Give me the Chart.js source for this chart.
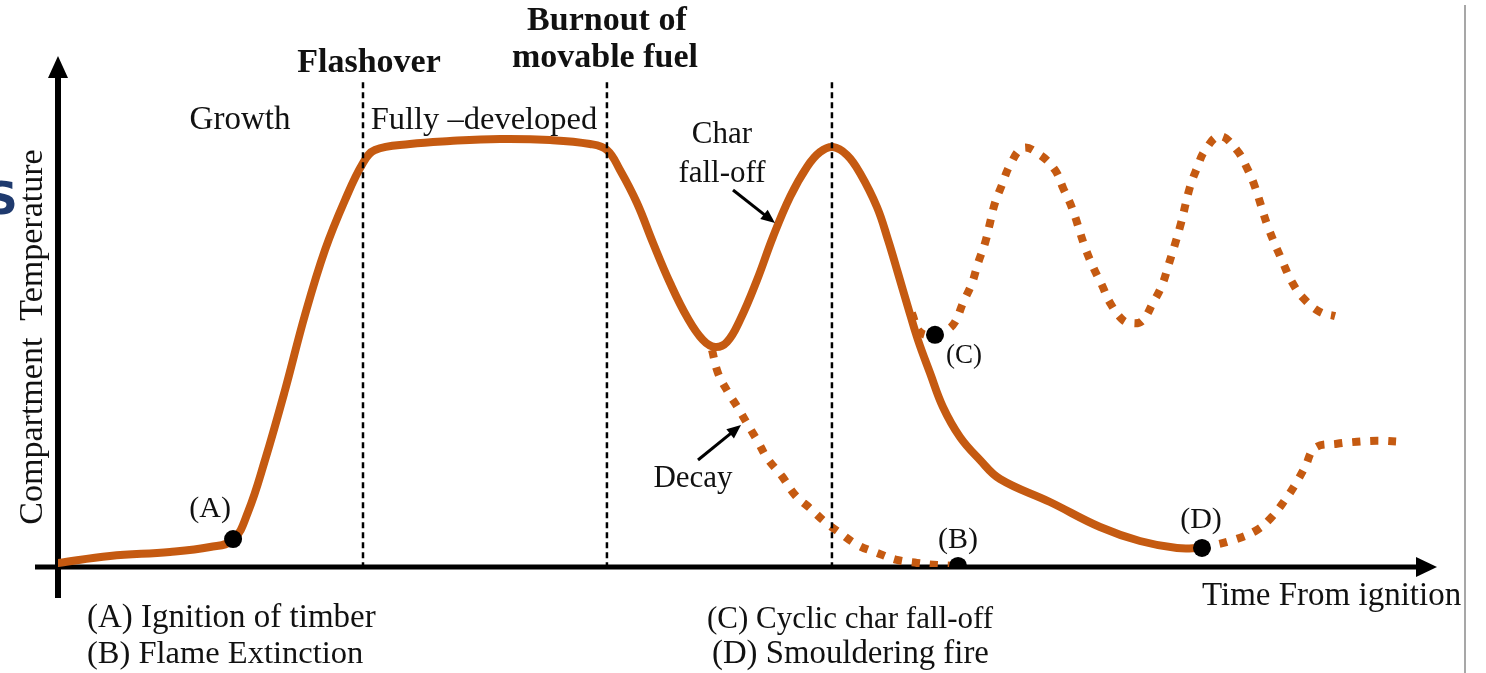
<!DOCTYPE html>
<html>
<head>
<meta charset="utf-8">
<title>Compartment fire temperature stages</title>
<script src="https://cdn.jsdelivr.net/npm/chart.js@4.4.1/dist/chart.umd.min.js"></script>
<style>
  html, body { margin: 0; padding: 0; background: #fff; }
  #wrap { position: relative; width: 1486px; height: 673px; }
</style>
</head>
<body>
<div id="wrap"><canvas id="fireChart"></canvas></div>
<script>
// time from ignition (0-100) and compartment temperature (0-100)
const mainTime = [0, 3.79, 8.16, 11.08, 12.76, 13.85, 15.09, 16.55, 18.0, 19.46, 20.92, 22.23, 23.1, 25.66, 28.57, 32.22, 35.86, 38.78, 40.01, 40.96, 42.2, 43.37, 44.61, 45.85, 47.01, 47.89, 48.76, 49.71, 50.95, 52.11, 53.35, 54.59, 55.54, 56.49, 57.51, 58.45, 59.69, 60.5, 61.22, 61.95, 62.68, 63.56, 64.5, 65.74, 67.2, 68.66, 72.3, 75.95, 78.86, 81.56, 83.38];
const mainTemp = [0.79, 2.17, 2.96, 3.94, 5.33, 10.85, 21.1, 34.91, 49.7, 62.52, 72.39, 79.68, 82.25, 83.43, 84.02, 84.42, 84.22, 83.43, 82.25, 78.3, 71.79, 63.91, 56.02, 49.31, 44.77, 43.39, 44.38, 48.72, 56.61, 65.09, 72.98, 78.9, 81.85, 82.84, 81.26, 77.71, 71.01, 64.5, 57.99, 51.28, 44.77, 38.26, 31.56, 25.64, 21.1, 17.36, 12.82, 7.89, 5.13, 3.75, 3.75];

const decayTime = [47.67, 48.1, 48.83, 49.56, 50.29, 51.02, 51.68, 52.77, 53.72, 54.81, 55.9, 57.0, 58.31, 59.69, 61.15, 62.61, 64.07, 65.6];
const decayTemp = [42.8, 38.3, 34.5, 31.4, 28.0, 24.7, 21.5, 17.9, 14.2, 11.6, 8.9, 6.7, 4.3, 2.8, 1.4, 0.8, 0.4, 0.2];

const cyclicTime = [62.24, 62.83, 63.92, 64.8, 65.38, 65.96, 66.62, 67.06, 67.57, 67.93, 68.29, 68.8, 69.39, 70.34, 71.57, 72.67, 73.25, 73.91, 74.85, 75.44, 76.09, 76.68, 77.62, 78.28, 79.01, 79.81, 80.47, 80.9, 81.78, 82.51, 83.02, 83.6, 84.69, 85.93, 86.66, 87.24, 88.19, 89.29, 89.94, 90.74, 91.98, 93.08];
const cyclicTemp = [50.1, 46.35, 45.76, 46.75, 48.32, 52.07, 56.02, 59.96, 63.91, 67.85, 71.79, 75.35, 79.29, 82.64, 81.3, 78.3, 74.8, 70.8, 63.1, 59.2, 55.6, 52.1, 48.7, 48.1, 48.5, 52.1, 55.6, 59.2, 67.1, 75.0, 78.7, 82.2, 85.0, 82.2, 78.7, 75.0, 67.1, 60.0, 56.2, 53.1, 50.3, 49.5];

const smoulderTime = [83.38, 85.64, 87.39, 88.48, 89.43, 90.16, 90.89, 91.62, 93.22, 94.68, 96.14, 97.81];
const smoulderTemp = [3.75, 5.3, 7.3, 9.9, 13.2, 16.2, 19.7, 23.5, 24.3, 24.7, 24.9, 24.7];

// stage boundaries: flashover, burnout of movable fuel, char fall-off peak
const stageTimes = [22.23, 40.01, 56.41];
const stageSpan = [-2.2, 95.7];

// events (A) ignition, (B) extinction, (C) cyclic fall-off, (D) smouldering
const eventNames = ["(A)", "(B)", "(C)", "(D)"];
const eventTime = [12.76, 65.6, 63.92, 83.38];
const eventTemp = [5.52, 0.2, 45.8, 3.75];

const ORANGE = "#C55A11";
const SERIF = "'Liberation Serif', 'Times New Roman', serif";

function pts(xs, ys) {
  return xs.map((x, i) => ({ x: x, y: ys[i] }));
}

const datasets = [];
datasets.push({
  label: "events",
  data: pts(eventTime, eventTemp),
  showLine: false,
  pointRadius: 9,
  pointBackgroundColor: "#000",
  pointBorderWidth: 0,
  order: 0
});
stageTimes.forEach(function (t) {
  datasets.push({
    label: "stage",
    data: [{ x: t, y: stageSpan[0] }, { x: t, y: stageSpan[1] }],
    showLine: true,
    borderColor: "#000",
    borderWidth: 2.5,
    borderDash: [6, 4],
    pointRadius: 0,
    order: 1
  });
});
datasets.push({
  label: "main",
  data: pts(mainTime, mainTemp),
  showLine: true,
  borderColor: ORANGE,
  borderWidth: 8,
  pointRadius: 0,
  tension: 0.4,
  borderCapStyle: "round",
  borderJoinStyle: "round",
  order: 2
});
[[decayTime, decayTemp], [cyclicTime, cyclicTemp], [smoulderTime, smoulderTemp]].forEach(function (s) {
  datasets.push({
    label: "dotted",
    data: pts(s[0], s[1]),
    showLine: true,
    borderColor: ORANGE,
    borderWidth: 8,
    borderDash: [8, 10],
    pointRadius: 0,
    tension: 0.4,
    order: 3
  });
});

const axesPlugin = {
  id: "axesPlugin",
  beforeDatasetsDraw(chart) {
    const ctx = chart.ctx;
    const a = chart.chartArea;
    ctx.save();
    ctx.fillStyle = "#000";
    ctx.strokeStyle = "#000";
    // y axis with arrow
    ctx.lineWidth = 6;
    ctx.beginPath();
    ctx.moveTo(a.left, 598);
    ctx.lineTo(a.left, a.top + 16);
    ctx.stroke();
    ctx.beginPath();
    ctx.moveTo(a.left, a.top - 4);
    ctx.lineTo(a.left - 10, a.top + 18);
    ctx.lineTo(a.left + 10, a.top + 18);
    ctx.closePath();
    ctx.fill();
    // x axis with arrow
    ctx.lineWidth = 5;
    ctx.beginPath();
    ctx.moveTo(35, a.bottom);
    ctx.lineTo(a.right - 12, a.bottom);
    ctx.stroke();
    ctx.beginPath();
    ctx.moveTo(a.right + 7, a.bottom);
    ctx.lineTo(a.right - 14, a.bottom - 10);
    ctx.lineTo(a.right - 14, a.bottom + 10);
    ctx.closePath();
    ctx.fill();
    ctx.restore();
  },
  afterDatasetsDraw(chart) {
    const ctx = chart.ctx;
    const x = chart.scales.x, y = chart.scales.y;
    ctx.save();
    ctx.fillStyle = "#111";
    ctx.textBaseline = "alphabetic";

    function txt(s, px, py, size, align, bold) {
      ctx.font = (bold ? "bold " : "") + size + "px " + SERIF;
      ctx.textAlign = align || "left";
      ctx.fillText(s, px, py);
    }
    function arrow(x1, y1, x2, y2) {
      const ang = Math.atan2(y2 - y1, x2 - x1);
      ctx.strokeStyle = "#000";
      ctx.lineWidth = 3;
      ctx.beginPath();
      ctx.moveTo(x1, y1);
      ctx.lineTo(x2 - 8 * Math.cos(ang), y2 - 8 * Math.sin(ang));
      ctx.stroke();
      ctx.beginPath();
      ctx.moveTo(x2, y2);
      ctx.lineTo(x2 - 14 * Math.cos(ang) + 6 * Math.sin(ang), y2 - 14 * Math.sin(ang) - 6 * Math.cos(ang));
      ctx.lineTo(x2 - 14 * Math.cos(ang) - 6 * Math.sin(ang), y2 - 14 * Math.sin(ang) + 6 * Math.cos(ang));
      ctx.closePath();
      ctx.fillStyle = "#000";
      ctx.fill();
      ctx.fillStyle = "#111";
    }

    // stage headings
    txt("Flashover", x.getPixelForValue(stageTimes[0]) + 6, 72, 34, "center", true);
    txt("Burnout of", x.getPixelForValue(stageTimes[1]), 30, 34, "center", true);
    txt("movable fuel", x.getPixelForValue(stageTimes[1]) - 2, 67, 34, "center", true);
    txt("Growth", 240, 129, 33, "center");
    txt("Fully \u2013developed", 484, 129, 32.5, "center");
    txt("Char", 722, 143, 31, "center");
    txt("fall-off", 722, 182, 31, "center");
    arrow(733, 190, 775, 223);
    txt("Decay", 693, 487, 31, "center");
    arrow(698, 460, 741, 425);

    // event labels
    const offs = [[-23, -22], [0, -18], [29, 28], [-1, -20]];
    eventNames.forEach(function (n, i) {
      const size = i === 2 ? 27 : 30;
      txt(n, x.getPixelForValue(eventTime[i]) + offs[i][0], y.getPixelForValue(eventTemp[i]) + offs[i][1], size, "center");
    });

    // axis titles
    txt("Time From ignition", 1202, 605, 33, "left");
    ctx.save();
    ctx.translate(42, 337);
    ctx.rotate(-Math.PI / 2);
    txt("Compartment  Temperature", 0, 0, 34, "center");
    ctx.restore();

    // key
    txt("(A) Ignition of timber", 87, 627, 33, "left");
    txt("(B) Flame Extinction", 87, 663, 32.5, "left");
    txt("(C) Cyclic char fall-off", 707, 628, 31, "left");
    txt("(D) Smouldering fire", 712, 663, 32.8, "left");

    // right frame edge and clipped glyph at the left border
    ctx.strokeStyle = "#8a8a8a";
    ctx.lineWidth = 1.5;
    ctx.beginPath();
    ctx.moveTo(1465, 5);
    ctx.lineTo(1465, 673);
    ctx.stroke();
    ctx.fillStyle = "#1F3A6E";
    ctx.font = "bold 44px 'DejaVu Sans', sans-serif";
    ctx.textAlign = "left";
    ctx.fillText("S", -14, 214);
    ctx.restore();
  }
};

new Chart(document.getElementById("fireChart").getContext("2d"), {
  type: "scatter",
  data: { datasets: datasets },
  options: {
    responsive: true,
    maintainAspectRatio: false,
    animation: false,
    layout: { padding: { left: 58, right: 56, top: 60, bottom: 106 } },
    plugins: { legend: { display: false }, tooltip: { enabled: false } },
    scales: {
      x: { type: "linear", min: 0, max: 100, display: false },
      y: { type: "linear", min: 0, max: 100, display: false }
    },
    elements: { line: { clip: false } }
  },
  plugins: [axesPlugin]
});
</script>
</body>
</html>
